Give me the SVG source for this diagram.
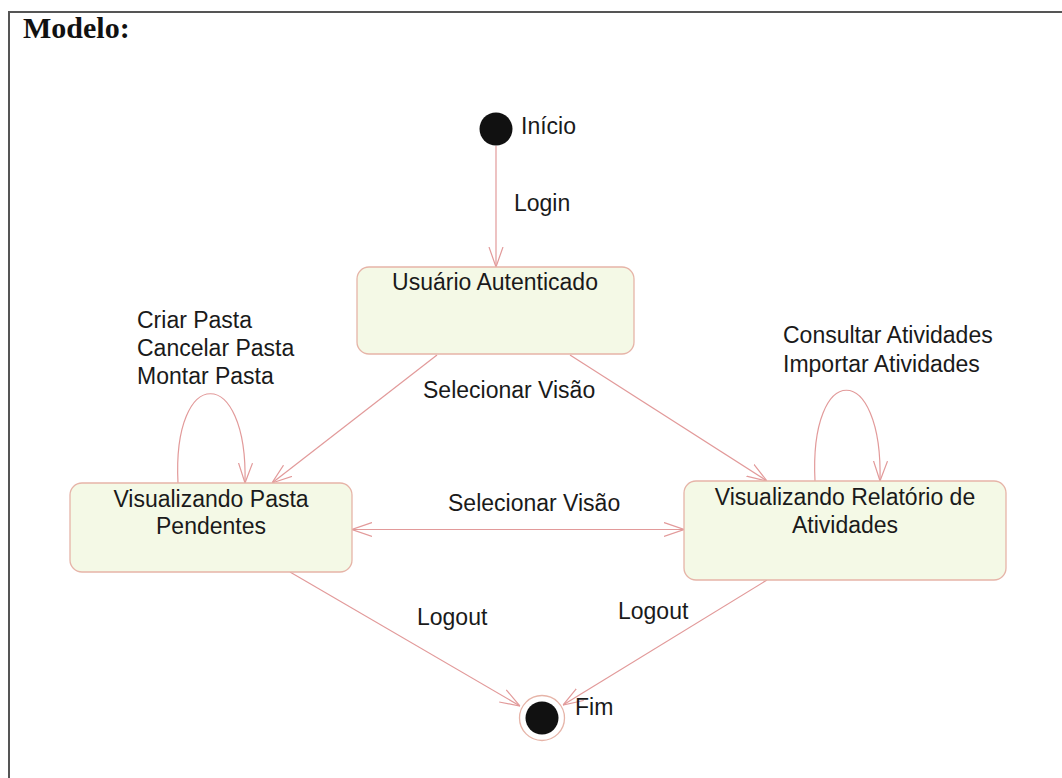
<svg xmlns="http://www.w3.org/2000/svg" width="1062" height="778" viewBox="0 0 1062 778">
<defs>
<style>
.t{font-family:"Liberation Sans",Arial,sans-serif;font-size:23px;fill:#1a1a1a}
.c{text-anchor:middle}
.st{fill:#f4f9e6;stroke:#e6b4a8;stroke-width:1.3}
.ln{fill:none;stroke:#e29a9a;stroke-width:1.2}
</style>
<marker id="ar" markerUnits="userSpaceOnUse" viewBox="0 0 20 16" refX="20" refY="8" markerWidth="20" markerHeight="16" orient="auto-start-reverse">
<path d="M0,1 L20,8 L0,15" fill="none" stroke="#e29a9a" stroke-width="1.2"/>
</marker>
</defs>
<rect width="1062" height="778" fill="#fff"/>
<path d="M9,778 V12 H1062" fill="none" stroke="#555" stroke-width="2"/>
<text x="23" y="38" font-family="Liberation Serif,'Times New Roman',serif" font-size="30" font-weight="bold" fill="#111">Modelo:</text>

<g id="connectors">
<line class="ln" x1="496" y1="146" x2="496" y2="267" marker-end="url(#ar)"/>
<line class="ln" x1="437" y1="355" x2="272" y2="483" marker-end="url(#ar)"/>
<line class="ln" x1="570" y1="355" x2="767" y2="481" marker-end="url(#ar)"/>
<path class="ln" d="M178,483 C172,364 248,364 245,483" marker-end="url(#ar)"/>
<path class="ln" d="M815,481 C809,360 883,360 880,481" marker-end="url(#ar)"/>
<line class="ln" x1="352" y1="529.5" x2="684" y2="529.5" marker-start="url(#ar)" marker-end="url(#ar)"/>
<line class="ln" x1="290" y1="572" x2="520" y2="706" marker-end="url(#ar)"/>
<line class="ln" x1="767" y1="580" x2="563" y2="705" marker-end="url(#ar)"/>
<text class="t" x="514" y="211">Login</text>
<text class="t" x="423" y="398">Selecionar Visão</text>
<text class="t" x="448" y="511">Selecionar Visão</text>
<text class="t" x="137" y="328">Criar Pasta</text>
<text class="t" x="137" y="356">Cancelar Pasta</text>
<text class="t" x="137" y="384">Montar Pasta</text>
<text class="t" x="783" y="343">Consultar Atividades</text>
<text class="t" x="783" y="372">Importar Atividades</text>
<text class="t" x="417" y="625">Logout</text>
<text class="t" x="618" y="619">Logout</text>
</g>

<g id="inicio">
<circle cx="496" cy="129" r="16.5" fill="#111"/>
<text class="t" x="521" y="134">Início</text>
</g>

<g id="usuario-autenticado">
<rect class="st" x="357" y="267" width="277" height="87" rx="12"/>
<text class="t c" x="495" y="290">Usuário Autenticado</text>
</g>

<g id="visualizando-pasta">
<rect class="st" x="70" y="483" width="282" height="89" rx="12"/>
<text class="t c" x="211" y="507">Visualizando Pasta</text>
<text class="t c" x="211" y="534">Pendentes</text>
</g>

<g id="visualizando-relatorio">
<rect class="st" x="684" y="481" width="322" height="99" rx="12"/>
<text class="t c" x="845" y="505">Visualizando Relatório de</text>
<text class="t c" x="845" y="533">Atividades</text>
</g>

<g id="fim">
<circle cx="542" cy="718" r="22.5" fill="#fff" stroke="#e6b4a8" stroke-width="1.3"/>
<circle cx="542" cy="718" r="16.5" fill="#111"/>
<text class="t" x="575" y="715">Fim</text>
</g>
</svg>
